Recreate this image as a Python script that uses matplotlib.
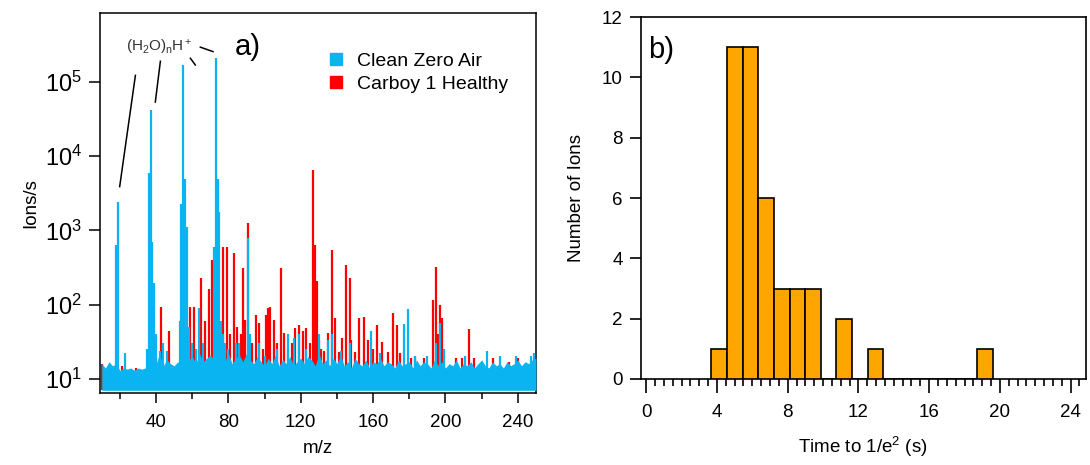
import numpy as np
import matplotlib
matplotlib.use('Agg')
import matplotlib.pyplot as plt
import matplotlib.patches as mpatches
from matplotlib.ticker import MultipleLocator, FixedLocator, LogLocator, NullLocator

plt.rcParams['font.family'] = ['Liberation Sans', 'DejaVu Sans']
plt.rcParams['mathtext.fontset'] = 'custom'
plt.rcParams['mathtext.rm'] = 'Liberation Sans'
plt.rcParams['mathtext.it'] = 'Liberation Sans:italic'

# =========================
# Dados - painel a) espectro de massa
# =========================
CIANO = '#0AB4F0'
VERMELHO = '#FF0000'
LARANJA = '#FFA500'

# envelope do ruído de fundo (Clean Zero Air), a cada 2 m/z de 10 a 250
ruido_mz = np.arange(10, 252, 2)
ruido_topo = [
    16, 14, 17, 15, 16, 13, 14, 13.5, 14, 13, 14, 13.5, 14, 15, 18, 16, 22, 15, 18, 16,   # 10-48
    15, 17, 15, 22, 18, 20, 16, 22, 17, 19, 21, 18, 24, 20, 17, 22, 16, 19, 21, 17,      # 50-88
    22, 18, 16, 20, 17, 15, 19, 16, 21, 15, 18, 16, 20, 15, 17, 19, 16, 20, 18, 15,      # 90-128
    22, 16, 18, 15, 19, 16, 21, 15, 17, 14, 19, 16, 15, 18, 14, 17, 16, 19, 15, 17,      # 130-168
    16, 14, 18, 15, 16, 17, 14, 18, 15, 17, 16, 14, 18, 15, 17, 14, 16, 15, 18, 14,      # 170-208
    16, 15, 17, 14, 16, 18, 15, 14, 17, 15, 16, 14, 17, 15, 16, 18, 15, 17, 16, 18,      # 210-248
    19,                                                                                  # 250
]

# picos Clean Zero Air (m/z, iões/s)
ciano_mz = [18, 19, 23, 35, 36, 37, 38, 39, 40, 42, 44, 46, 53, 54, 55, 56, 57, 58, 60,
            62, 64, 66, 72, 73, 74, 75, 76, 77, 78, 80, 84, 86, 91, 92, 97, 100, 107,
            113, 116, 119, 123, 130, 135, 137, 142, 147, 159, 164, 177, 179, 183, 190,
            195, 197, 199, 211, 223, 230, 239, 247, 249]
ciano_int = [630, 2400, 22, 25, 5900, 42000, 700, 195, 40, 24, 30, 24, 60, 2300, 170000,
             5000, 1100, 50, 30, 25, 90, 30, 600, 210000, 5000, 1780, 60, 40, 30, 25, 30,
             30, 790, 40, 30, 20, 25, 40, 35, 40, 25, 40, 33, 40, 24, 30, 44, 22, 55, 87,
             20, 20, 30, 56, 25, 20, 24, 20, 20, 20, 22]

# picos Carboy 1 Healthy (m/z, iões/s)
verm_mz = [10, 21, 29, 43, 47, 59, 61, 65, 67, 69, 71, 77, 79, 81, 83, 85, 87, 88, 89, 91,
           93, 95, 97, 99, 101, 102, 103, 105, 107, 109, 111, 113, 115, 117, 119, 121,
           123, 125, 127, 128, 129, 130, 131, 133, 135, 137, 139, 141, 143, 145, 147,
           148, 150, 152, 155, 157, 160, 162, 165, 168, 171, 173, 175, 181, 183, 188,
           193, 195, 196, 197, 198, 206, 209, 213, 216, 226, 235, 240]
verm_int = [16, 15, 14, 94, 44, 93, 93, 230, 60, 160, 400, 600, 600, 40, 500, 50, 40, 310,
            62, 1270, 30, 73, 57, 25, 73, 90, 93, 62, 30, 310, 41, 25, 30, 49, 53, 44, 49,
            30, 6600, 630, 205, 33, 25, 24, 41, 550, 66, 23, 35, 340, 230, 33, 23, 66, 69,
            33, 25, 53, 31, 23, 77, 53, 22, 19, 20, 19, 115, 325, 40, 100, 66, 19, 19, 47,
            19, 19, 17, 19]

# =========================
# Dados - painel b) histograma
# =========================
bin_inicio = 3.68
bin_largura = 0.885
contagens = [1, 11, 11, 6, 3, 3, 3, 0, 2, 0, 1, 0, 0, 0, 0, 0, 0, 1]

# =========================
# Figura
# =========================
fig = plt.figure(figsize=(10.9, 4.65), dpi=100)
ax1 = fig.add_axes([0.0917, 0.155, 0.400, 0.817])
ax2 = fig.add_axes([0.588, 0.185, 0.408, 0.778])

# ---- painel a)
base = 7.0
ax1.vlines(verm_mz, base, verm_int, color=VERMELHO, lw=1.6, zorder=2)
ax1.fill_between(ruido_mz, base, ruido_topo, color=CIANO, lw=0, zorder=3)
ax1.vlines(ciano_mz, base, ciano_int, color=CIANO, lw=1.6, zorder=4)

ax1.set_yscale('log')
ax1.set_xlim(9, 250)
ax1.set_ylim(10 ** 0.81, 10 ** 5.93)
ax1.yaxis.set_major_locator(LogLocator(base=10, numticks=10))
ax1.yaxis.set_minor_locator(NullLocator())
ax1.xaxis.set_major_locator(FixedLocator([40, 80, 120, 160, 200, 240]))
ax1.xaxis.set_minor_locator(FixedLocator([20, 60, 100, 140, 180, 220]))
ax1.tick_params(axis='y', which='major', labelsize=17, length=8, width=1.1, pad=5)
ax1.tick_params(axis='x', which='major', labelsize=13.5, length=7, width=1.1, pad=8)
ax1.tick_params(axis='x', which='minor', length=4, width=1.1)
ax1.set_xlabel('m/z', fontsize=13.5, labelpad=7)
ax1.set_ylabel('Ions/s', fontsize=13.5, labelpad=4)
for s in ax1.spines.values():
    s.set_linewidth(1.1)

# anotação dos clusters de água
linhas_agua = [((28.6, 19.9), (10 ** 5.09, 10 ** 3.59)),
               ((42.4, 39.6), (10 ** 5.28, 10 ** 4.73)),
               ((59.0, 61.7), (10 ** 5.32, 10 ** 5.23)),
               ((64.5, 71.5), (10 ** 5.47, 10 ** 5.41))]
for xs, ys in linhas_agua:
    ax1.plot(xs, ys, color='black', lw=1.1, zorder=5)
ax1.text(42, 10 ** 5.47, r'(H$_2$O)$_\mathrm{n}$H$^+$', fontsize=11, ha='center',
         va='center', color='#333333', zorder=6)
ax1.text(0.31, 0.91, 'a)', transform=ax1.transAxes, fontsize=21, ha='left', va='center')

legenda = [mpatches.Patch(color=CIANO, label='Clean Zero Air'),
           mpatches.Patch(color=VERMELHO, label='Carboy 1 Healthy')]
ax1.legend(handles=legenda, loc='upper right', bbox_to_anchor=(0.955, 0.915),
           frameon=False, fontsize=14, handlelength=0.6, handleheight=0.6,
           handletextpad=0.8, labelspacing=0.3, borderaxespad=0)

# ---- painel b)
esquerdas = bin_inicio + bin_largura * np.arange(len(contagens))
ax2.bar(esquerdas, contagens, width=bin_largura, align='edge', color=LARANJA,
        edgecolor='black', linewidth=1.2, zorder=3)
ax2.set_xlim(-0.3, 24.85)
ax2.set_ylim(0, 12)
ax2.xaxis.set_major_locator(MultipleLocator(4))
ax2.xaxis.set_minor_locator(MultipleLocator(0.5))
ax2.yaxis.set_major_locator(MultipleLocator(2))
ax2.tick_params(axis='y', which='major', labelsize=13.5, length=8, width=1.2, pad=5)
ax2.tick_params(axis='x', which='major', labelsize=13.5, length=10, width=1.2, pad=8)
ax2.tick_params(axis='x', which='minor', length=5, width=1.2)
ax2.set_xlabel('Time to 1/e$^2$ (s)', fontsize=13.5, labelpad=10)
ax2.set_ylabel('Number of Ions', fontsize=13.5, labelpad=12)
ax2.text(0.015, 0.91, 'b)', transform=ax2.transAxes, fontsize=21, ha='left', va='center')
for s in ax2.spines.values():
    s.set_linewidth(1.2)

fig.savefig('out.png', dpi=100)
